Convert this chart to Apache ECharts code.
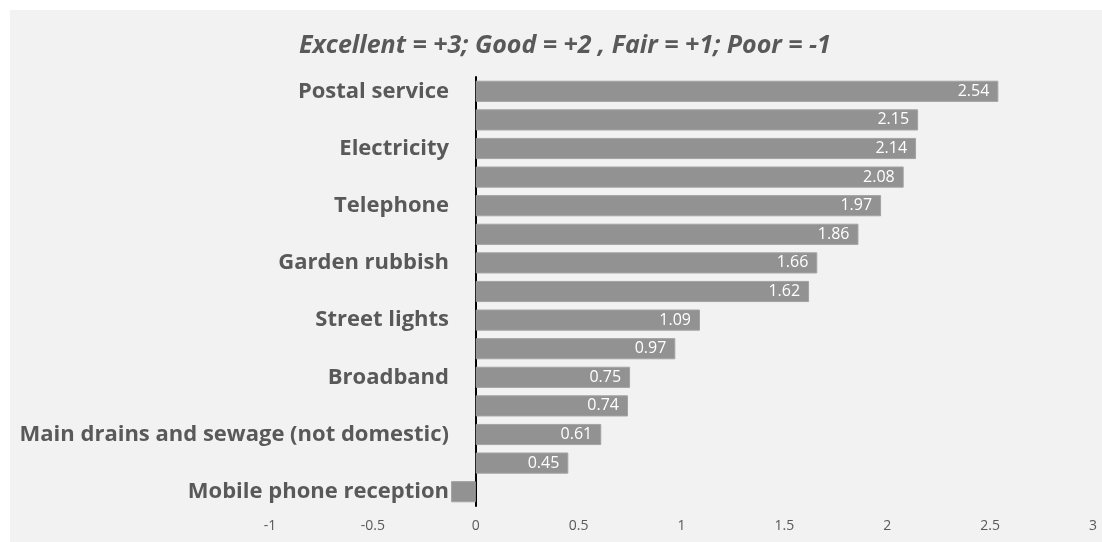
<!DOCTYPE html>
<html>
<head>
<meta charset="utf-8">
<script src="https://cdn.jsdelivr.net/npm/echarts@6/dist/echarts.min.js"></script>
<style>
  html, body { margin: 0; padding: 0; background: #ffffff; }
  #wrap { position: absolute; left: 10px; top: 10px; width: 1092px; height: 532px; background: #f2f2f2; }
  #chart { position: absolute; left: 0; top: 0; width: 1102px; height: 542px; }
</style>
</head>
<body>
<div id="wrap"></div>
<div id="chart"></div>
<script>
// Categories top to bottom (unlabelled rows in the picture use placeholder names, their labels are hidden)
const categories = [
  "Postal service", "(unlabelled 1)", "Electricity", "(unlabelled 2)", "Telephone",
  "(unlabelled 3)", "Garden rubbish", "(unlabelled 4)", "Street lights", "(unlabelled 5)",
  "Broadband", "(unlabelled 6)", "Main drains and sewage (not domestic)", "(unlabelled 7)",
  "Mobile phone reception"
];
const scores = [2.54, 2.15, 2.14, 2.08, 1.97, 1.86, 1.66, 1.62, 1.09, 0.97, 0.75, 0.74, 0.61, 0.45, -0.12];
const titleText = "Excellent = +3; Good = +2 , Fair = +1; Poor = -1";
const xTicks = [-1, -0.5, 0, 0.5, 1, 1.5, 2, 2.5, 3];

const chart = echarts.init(document.getElementById('chart'), null, { renderer: 'canvas' });
const fontFam = '"Open Sans", "Liberation Sans", sans-serif';
chart.setOption({
  backgroundColor: 'transparent',
  animation: false,
  title: {
    text: titleText,
    left: 294,
    top: 28,
    textStyle: { fontFamily: fontFam, fontStyle: 'italic', fontWeight: 'bold', fontSize: 25, color: '#595959' }
  },
  grid: { left: 270, right: 9, top: 77, bottom: 36, containLabel: false, outerBoundsMode: 'none' },
  xAxis: {
    type: 'value',
    min: xTicks[0],
    max: xTicks[xTicks.length - 1],
    interval: 0.5,
    splitLine: { show: false },
    axisLine: { show: false },
    axisTick: { show: false },
    axisLabel: { color: '#595959', fontSize: 14, fontFamily: fontFam, margin: 13 }
  },
  yAxis: {
    type: 'category',
    inverse: true,
    data: categories,
    axisLine: { show: true, onZero: true, lineStyle: { color: '#000000', width: 2 } },
    axisTick: { show: false },
    axisLabel: {
      interval: 1,
      color: '#595959',
      fontSize: 22,
      fontWeight: 'bold',
      fontFamily: fontFam,
      margin: -179
    }
  },
  series: [{
    type: 'bar',
    data: scores,
    barCategoryGap: '26%',
    itemStyle: { color: '#929292', borderColor: '#a3a3a3', borderWidth: 1 },
    label: {
      show: true,
      position: 'insideRight',
      distance: 9,
      color: '#ffffff',
      fontSize: 16,
      fontFamily: fontFam,
      formatter: p => (p.value > 0 ? p.value.toFixed(2) : '')
    }
  }]
});
</script>
</body>
</html>
